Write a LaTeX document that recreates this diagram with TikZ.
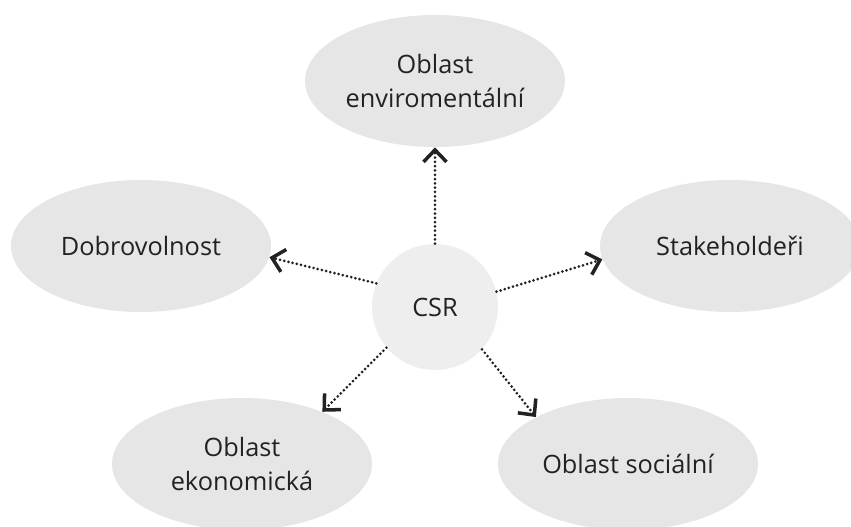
\documentclass[tikz,border=0pt]{standalone}
\usepackage{fontspec}
\setmainfont{Open Sans}
\usepackage{xcolor}
\usetikzlibrary{shapes.geometric, arrows.meta}

\definecolor{oblastfill}{HTML}{E6E6E6}
\definecolor{csrfill}{HTML}{EEEEEE}
\definecolor{textgray}{HTML}{222222}

\begin{document}
\begin{tikzpicture}[
    oblast/.style={ellipse, fill=oblastfill, minimum width=5.2cm, minimum height=2.64cm,
        inner sep=0pt, align=center, text=textgray,
        font=\fontsize{14.4}{19.5}\selectfont},
    jadro/.style={circle, fill=csrfill, minimum size=2.52cm, inner sep=0pt,
        text=textgray, font=\fontsize{14.4}{19.5}\selectfont},
    vazba/.style={textgray, line width=1.7pt, line cap=round,
        dash pattern=on 0pt off 2.45pt,
        -{Straight Barb[length=2.4mm, width=4.6mm, line width=2pt]}}
]
    % 0. Rozmer obrazku
    \useasboundingbox (0,0) rectangle (17.02,-10.54);

    % 1. Stred - CSR
    \node[jadro] (csr) at (8.70,-6.14) {CSR};

    % 2. Oblasti kolem
    \node[oblast] (env) at (8.70,-1.62) {Oblast\\enviromentální};
    \node[oblast] (dob) at (2.82,-4.92) {Dobrovolnost};
    \node[oblast] (stk) at (14.60,-4.92) {Stakeholdeři};
    \node[oblast] (eko) at (4.84,-9.28) {Oblast\\ekonomická};
    \node[oblast] (soc) at (12.56,-9.28) {Oblast sociální};

    % 3. Teckovane sipky ze stredu
    \draw[vazba] (csr.90) -- (env.270);
    \draw[vazba] (csr.158) -- (dob.-5);
    \draw[vazba] (csr.14) -- (stk.186);
    \draw[vazba] (csr.220) -- (eko.33);
    \draw[vazba] (csr.318) -- (soc.153);
\end{tikzpicture}
\end{document}
